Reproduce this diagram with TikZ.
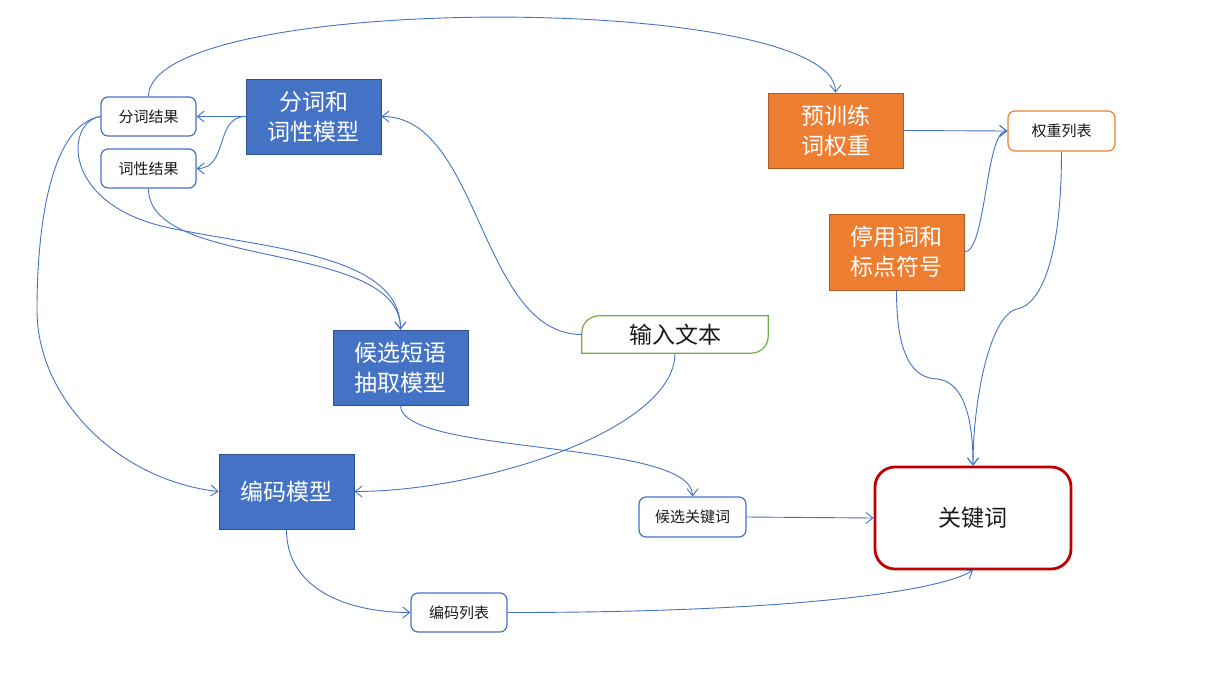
\documentclass[tikz,border=0pt]{standalone}
\usepackage{fontspec}
\newfontfamily\cjk{Noto Sans CJK SC}
\usetikzlibrary{arrows.meta}
\definecolor{cblue}{HTML}{4472C4}
\definecolor{cblueb}{HTML}{2F528F}
\definecolor{corange}{HTML}{ED7D31}
\definecolor{corangeb}{HTML}{AE5A21}
\definecolor{cgreen}{HTML}{70AD47}
\definecolor{cred}{HTML}{C00000}
\definecolor{ctext}{HTML}{1A1A1A}
\tikzset{
  bigbox/.style={minimum width=135pt, minimum height=75pt, inner sep=0pt, text=white, align=center, line width=0.8pt, font=\cjk\fontsize{23}{30}\selectfont},
  bluebox/.style={bigbox, fill=cblue, draw=cblueb},
  orangebox/.style={bigbox, fill=corange, draw=corangeb},
  smallbox/.style={draw=cblue, fill=white, rounded corners=7pt, line width=1.2pt, minimum width=95pt, minimum height=39pt, inner sep=0pt, text=ctext, font=\cjk\fontsize{15}{18}\selectfont},
  conn/.style={draw=cblue, line width=0.9pt, -{Straight Barb[length=7pt,width=11pt]}},
}
\begin{document}
\begin{tikzpicture}[x=1pt,y=-1pt]
\useasboundingbox (0,0) rectangle (1227,681);
% nodes
\node[smallbox] (fc) at (148.5,116.5) {分词结果};
\node[smallbox] (cx) at (148.5,168.5) {词性结果};
\node[bluebox] (fm) at (313.5,116.5) {分词和\\词性模型};
\node[orangebox] (yx) at (835.5,130.5) {预训练\\词权重};
\node[smallbox, draw=corange, minimum width=107pt, minimum height=40pt] (qz) at (1061.5,131) {权重列表};
\node[orangebox, minimum height=76pt] (ty) at (896.5,252) {停用词和\\标点符号};
\node[minimum width=186pt, minimum height=37pt, inner sep=0pt, text=ctext, font=\cjk\fontsize{23}{28}\selectfont] (in) at (675,334.5) {输入文本};
\draw[cgreen, line width=1.2pt]
  ([yshift=-17pt]in.north west) .. controls ([yshift=-7.6pt]in.north west) and ([xshift=7.6pt]in.north west) .. ([xshift=17pt]in.north west)
  -- (in.north east) -- ([yshift=17pt]in.south east)
  .. controls ([yshift=7.6pt]in.south east) and ([xshift=-7.6pt]in.south east) .. ([xshift=-17pt]in.south east)
  -- (in.south west) -- cycle;
\node[bluebox] (hx) at (400.5,367.5) {候选短语\\抽取模型};
\node[bluebox] (bm) at (286.5,491.5) {编码模型};
\node[smallbox, minimum width=107pt, minimum height=40pt] (hk) at (692.5,517) {候选关键词};
\node[draw=cred, line width=2.8pt, rounded corners=20pt, minimum width=196pt, minimum height=102pt, inner sep=0pt, text=ctext, font=\cjk\fontsize{23}{28}\selectfont] (kw) at (973,518) {关键词};
\node[smallbox, minimum width=96pt] (bl) at (459,612.5) {编码列表};
% helper coordinates
\coordinate (m5) at (170,228);
\coordinate (m7) at (37,310);
\coordinate (m15) at (937,379);
\coordinate (m16) at (1017,309);
% connectors
\draw[conn] (fm.west) -- (fc.east);
\draw[conn] (fm.west) .. controls +(-31,0) and +(32,0) .. (cx.east);
\draw[conn] (in.west) .. controls +(-102,0) and +(99,0) .. (fm.east);
\draw[conn] (fc.north) .. controls +(0,-105) and +(0,-101) .. (yx.north);
\draw[conn] (fc.west) .. controls +(-35,5) and +(-110,-23) .. (m5) .. controls +(100,21) and +(0,-75) .. (hx.north);
\draw[conn] (cx.south) .. controls +(0,82) and +(0,-90) .. (hx.north);
\draw[conn] (fc.west) .. controls +(-51,9) and +(0,-80) .. (m7) .. controls +(0,90) and +(-99,-11) .. (bm.west);
\draw[conn] (in.south) .. controls +(0,77) and +(126,0) .. (bm.east);
\draw[conn] (hx.south) .. controls +(0,50) and +(0,-57) .. (hk.north);
\draw[conn] (hk.east) -- (kw.west);
\draw[conn] (bm.south) .. controls +(0,61) and +(-61,0) .. (bl.west);
\draw[conn] (bl.east) .. controls +(293,0) and +(-33,20) .. (kw.south);
\draw[conn] (yx.east) -- (qz.west);
\draw[conn] (ty.east) .. controls +(22,0) and +(-22,0) .. (qz.west);
\draw[conn] (ty.south) .. controls +(0,70) and +(-22,-1) .. (m15) .. controls +(23,2) and +(0,-56) .. (kw.north);
\draw[conn] (qz.south) .. controls +(0,109) and +(23,-4) .. (m16) .. controls +(-27,6) and +(0,-66) .. (kw.north);
\end{tikzpicture}
\end{document}
